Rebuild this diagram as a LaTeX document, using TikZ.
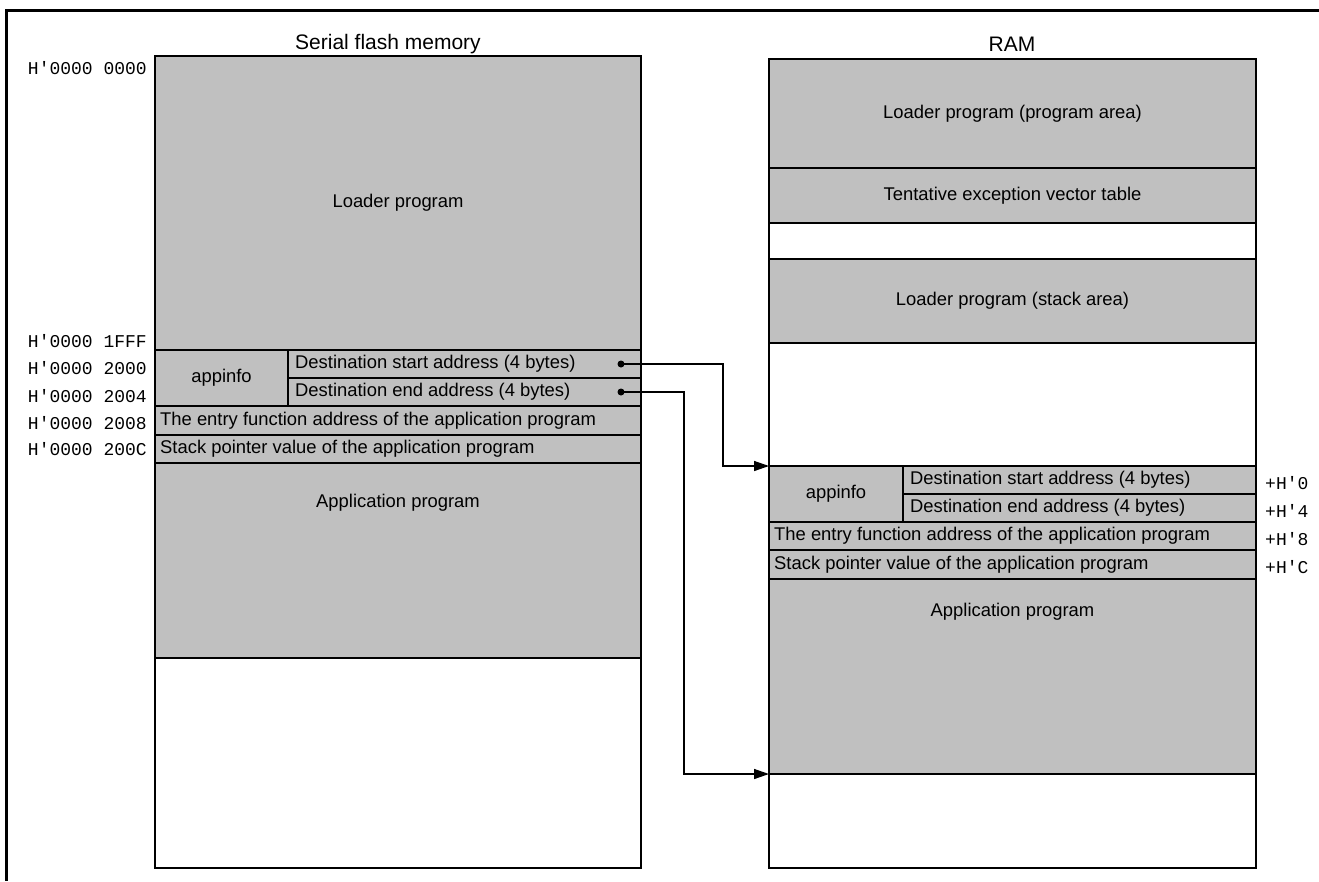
\documentclass[tikz,border=0pt]{standalone}
\usepackage{fontspec}
\setmainfont{Liberation Sans}
\setmonofont{Liberation Mono}
\usetikzlibrary{arrows.meta,calc}

\definecolor{memgray}{RGB}{192,192,192}

\begin{document}
\begin{tikzpicture}[x=1pt,y=-1pt,
  every node/.style={font=\fontsize{18.4}{22}\selectfont, text=black},
  area/.style={draw=black, line width=1.4pt, fill=memgray, anchor=north west,
               inner sep=0pt, outer sep=0pt},
  free/.style={area, fill=white},
  addr/.style={font=\ttfamily\fontsize{18}{20}\selectfont, anchor=east, inner sep=0pt},
  ofs/.style={font=\ttfamily\fontsize{18}{20}\selectfont, anchor=west, inner sep=0pt},
  lbl/.style={inner sep=0pt},
  title/.style={inner sep=0pt, font=\fontsize{21}{25}\selectfont},
  lleft/.style={inner sep=0pt, anchor=west},
  dot/.style={circle, fill=black, inner sep=0pt, minimum size=7pt},
  link/.style={line width=1.4pt, -{Triangle[length=15pt,width=10pt]}},
  frame/.style={line width=2.8pt},
]
\useasboundingbox (0,0) rectangle (1319,881);

% partial outer frame
\draw[frame] (1319,10.5) -- (6.5,10.5) -- (6.5,881);

% titles
\node[title] (tflash) at (388,44) {Serial flash memory};
\node[title] (tram)   at (1012,44) {RAM};

% ---------------- serial flash memory ----------------
\node[area, minimum width=486pt, minimum height=294pt] (fldr)   at (155,56)  {Loader program};
\node[area, minimum width=133pt, minimum height=56pt]  (finfo)  at (155,350) {appinfo};
\node[area, minimum width=353pt, minimum height=28pt]  (fstart) at (288,350) {};
\node[area, minimum width=353pt, minimum height=28pt]  (fend)   at (288,378) {};
\node[area, minimum width=486pt, minimum height=29pt]  (fentry) at (155,406) {};
\node[area, minimum width=486pt, minimum height=28pt]  (fsp)    at (155,435) {};
\node[area, minimum width=486pt, minimum height=195pt] (fapp)   at (155,463) {};
\node[free, minimum width=486pt, minimum height=210pt] (ffree)  at (155,658) {};

\node[lleft] at ($(fstart.west)+(7,0)$) {Destination start address (4 bytes)};
\node[lleft] at ($(fend.west)+(7,0)$)   {Destination end address (4 bytes)};
\node[lleft] at ($(fentry.west)+(5,0)$) {The entry function address of the application program};
\node[lleft] at ($(fsp.west)+(5,0)$)    {Stack pointer value of the application program};
\node[lbl]   at ($(fapp.north)+(0,40)$) {Application program};

% flash addresses
\node[addr] at (147,68)  {H'0000 0000};
\node[addr] at (147,341) {H'0000 1FFF};
\node[addr] at (147,368) {H'0000 2000};
\node[addr] at (147,396) {H'0000 2004};
\node[addr] at (147,423) {H'0000 2008};
\node[addr] at (147,449) {H'0000 200C};

% ---------------- RAM ----------------
\node[area, minimum width=487pt, minimum height=109pt] (rprog)  at (769,59)  {Loader program (program area)};
\node[area, minimum width=487pt, minimum height=55pt]  (rvec)   at (769,168) {Tentative exception vector table};
\node[free, minimum width=487pt, minimum height=36pt]  (rgapa)  at (769,223) {};
\node[area, minimum width=487pt, minimum height=84pt]  (rstack) at (769,259) {Loader program (stack area)};
\node[free, minimum width=487pt, minimum height=123pt] (rgapb)  at (769,343) {};
\node[area, minimum width=134pt, minimum height=56pt]  (rinfo)  at (769,466) {appinfo};
\node[area, minimum width=353pt, minimum height=28pt]  (rstart) at (903,466) {};
\node[area, minimum width=353pt, minimum height=28pt]  (rend)   at (903,494) {};
\node[area, minimum width=487pt, minimum height=28pt]  (rentry) at (769,522) {};
\node[area, minimum width=487pt, minimum height=29pt]  (rsp)    at (769,550) {};
\node[area, minimum width=487pt, minimum height=195pt] (rapp)   at (769,579) {};
\node[free, minimum width=487pt, minimum height=94pt]  (rfree)  at (769,774) {};

\node[lleft] at ($(rstart.west)+(7,0)$) {Destination start address (4 bytes)};
\node[lleft] at ($(rend.west)+(7,0)$)   {Destination end address (4 bytes)};
\node[lleft] at ($(rentry.west)+(5,0)$) {The entry function address of the application program};
\node[lleft] at ($(rsp.west)+(5,0)$)    {Stack pointer value of the application program};
\node[lbl]   at ($(rapp.north)+(0,33)$) {Application program};

% RAM offsets
\node[ofs] at (1265,483) {+H'0};
\node[ofs] at (1265,511) {+H'4};
\node[ofs] at (1265,539) {+H'8};
\node[ofs] at (1265,567) {+H'C};

% ---------------- copy connectors ----------------
\node[dot] (s1) at ($(fstart.east)+(-20,0)$) {};
\node[dot] (s2) at ($(fend.east)+(-20,0)$)   {};
\draw[link] (s1.center) -- ++(102,0) |- (rinfo.north west);
\draw[link] (s2.center) -- ++(63,0) |- (rapp.south west);
\end{tikzpicture}
\end{document}
